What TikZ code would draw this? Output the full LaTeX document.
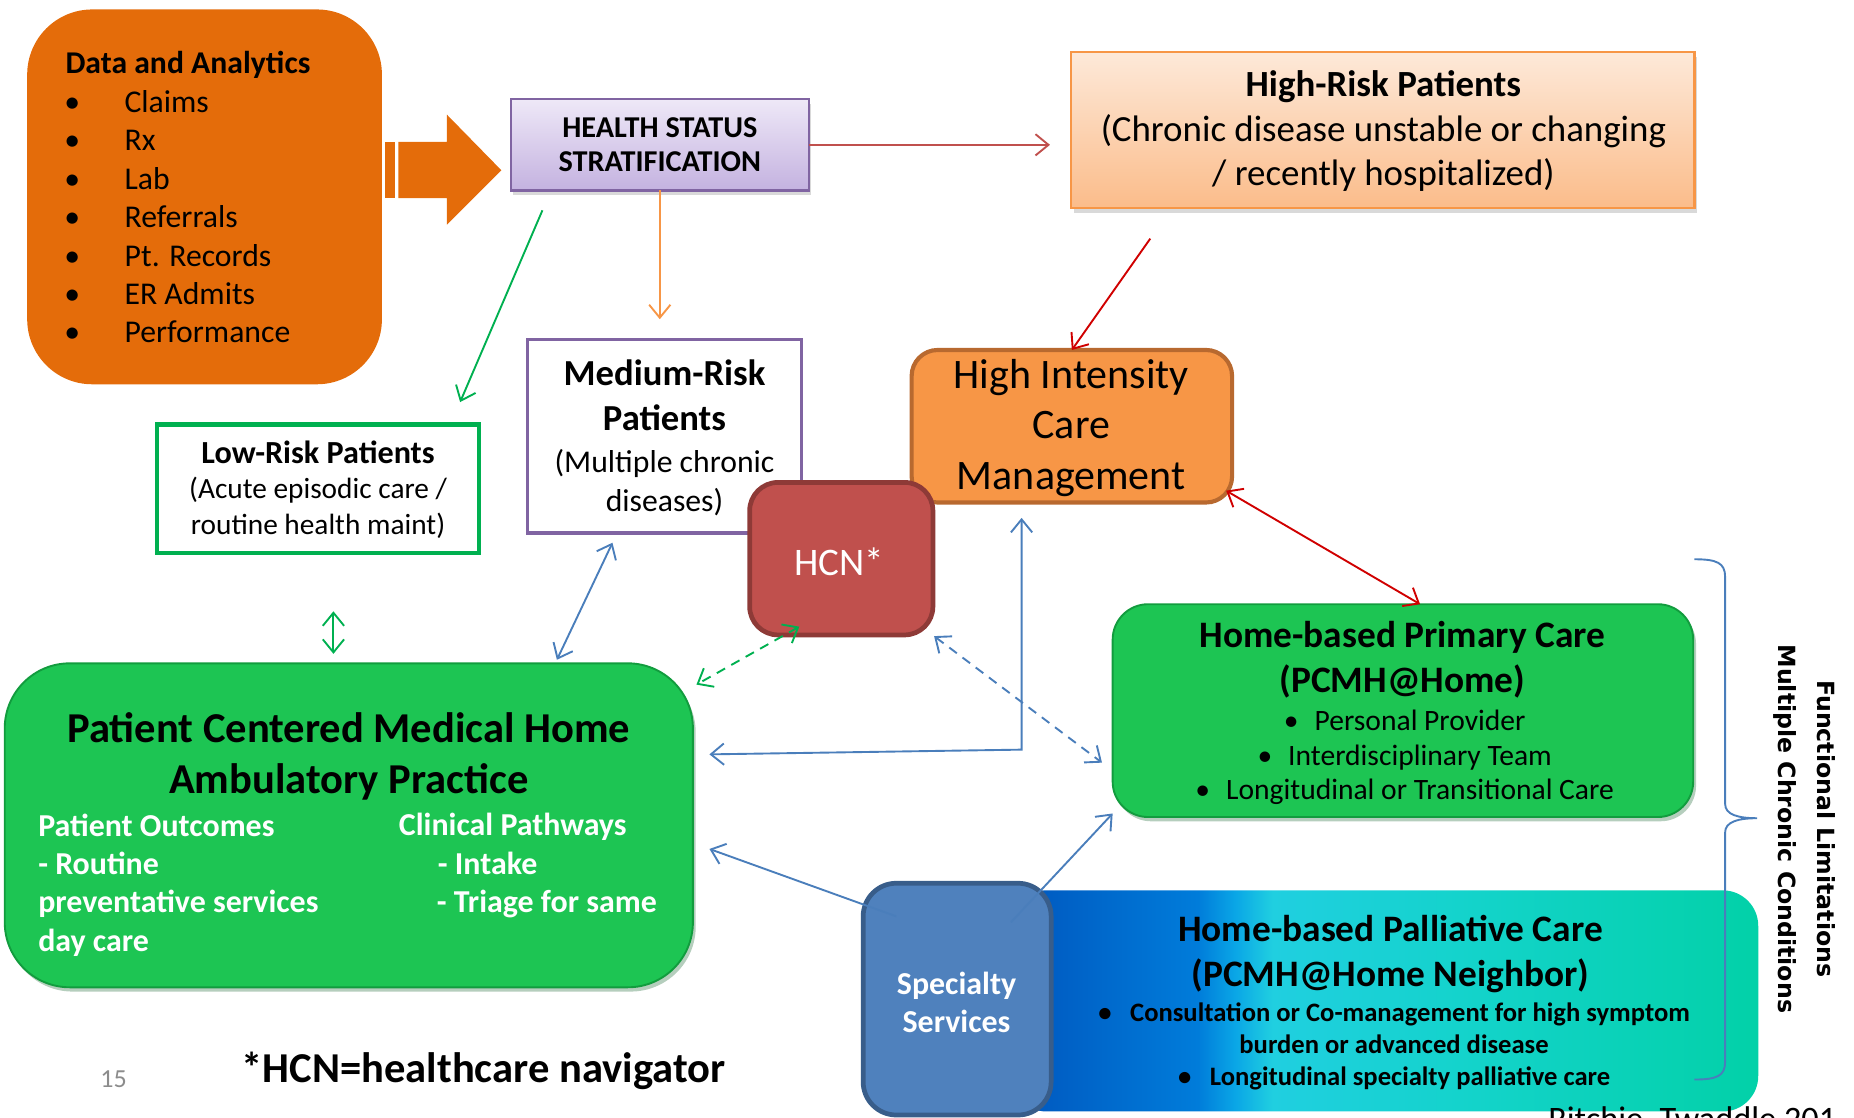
\documentclass[tikz,border=0pt]{standalone}
\usepackage{fontspec}
\setmainfont{Carlito}
\newfontfamily\vertfont{DejaVu Sans}
\usetikzlibrary{arrows.meta,calc,shadows}
\definecolor{daorange}{HTML}{E46C0A}
\definecolor{hsstop}{HTML}{EEE8F7}
\definecolor{hssbot}{HTML}{C4B2E0}
\definecolor{purpleb}{HTML}{8064A2}
\definecolor{hrtop}{HTML}{FDE9D9}
\definecolor{hrbot}{HTML}{FBBC8A}
\definecolor{hrborder}{HTML}{F79646}
\definecolor{hicfill}{HTML}{F79646}
\definecolor{hicborder}{HTML}{B8692F}
\definecolor{hcnfill}{HTML}{C0504D}
\definecolor{hcnborder}{HTML}{8E3A37}
\definecolor{gfill}{HTML}{1DC553}
\definecolor{gdark}{HTML}{129C3E}
\definecolor{glight}{HTML}{5BEB8A}
\definecolor{lowgreen}{HTML}{00B050}
\definecolor{specfill}{HTML}{4F81BD}
\definecolor{specborder}{HTML}{385D8A}
\definecolor{arrblue}{HTML}{4A7EBB}
\definecolor{arrred}{HTML}{C0504D}
\definecolor{brightred}{HTML}{D00000}
\definecolor{arrorange}{HTML}{F79646}
\definecolor{pal1}{HTML}{0056BE}
\definecolor{pal2}{HTML}{007CDA}
\definecolor{pal3}{HTML}{0AA6E6}
\definecolor{pal4}{HTML}{20CFE0}
\definecolor{pal5}{HTML}{14D3CC}
\definecolor{pal6}{HTML}{02D1A8}
\definecolor{pagegray}{HTML}{8C8C8C}
\pgfdeclarehorizontalshading{palshade}{100bp}{color(0bp)=(pal1); color(25bp)=(pal1); color(37.5bp)=(pal2); color(40bp)=(pal3); color(42.5bp)=(pal4); color(55bp)=(pal5); color(75bp)=(pal6); color(100bp)=(pal6)}
\newcommand{\fsz}[2]{\fontsize{#1pt}{#2pt}\selectfont}
\begin{document}
\begin{tikzpicture}[x=0.5pt,y=-0.5pt,
  >={Straight Barb[length=5.5pt,width=9pt]},
  box/.style={inner sep=0pt, outer sep=0pt},
  txt/.style={align=center, inner sep=0pt},
  softshadow/.style={drop shadow={opacity=0.3,shadow xshift=1pt,shadow yshift=-2pt}},
  greenbox/.style={box, fill=gfill, draw=gdark, line width=0.8pt,
     drop shadow={opacity=0.3,shadow xshift=1.2pt,shadow yshift=-1.8pt,fill=gdark!60!black}},
  conn/.style={line width=0.8pt},
  bluearr/.style={conn, draw=arrblue},
  grarr/.style={conn, draw=lowgreen},
  redarr/.style={conn, draw=brightred},
  dsh/.style={dash pattern=on 4pt off 3pt}
]
\path[use as bounding box] (0,0) rectangle (1568,945);

% Data and Analytics
\node[box, fill=daorange, rounded corners=27.5pt, minimum width=150pt, minimum height=158.5pt] (da) at (173,166.5) {};
\node[anchor=west, align=left, inner sep=0pt, font=\fsz{13.4}{16.25}] (dat) at (55,167)
 {\textbf{Data and Analytics}\\
  \hspace*{-0.5pt}\makebox[25.5pt][l]{•}Claims\\
  \hspace*{-0.5pt}\makebox[25.5pt][l]{•}Rx\\
  \hspace*{-0.5pt}\makebox[25.5pt][l]{•}Lab\\
  \hspace*{-0.5pt}\makebox[25.5pt][l]{•}Referrals\\
  \hspace*{-0.5pt}\makebox[25.5pt][l]{•}Pt. Records\\
  \hspace*{-0.5pt}\makebox[25.5pt][l]{•}ER Admits\\
  \hspace*{-0.5pt}\makebox[25.5pt][l]{•}Performance};

% big striped arrow
\fill[daorange] (326,120) rectangle (334,167.5);
\fill[daorange] (337,120) -- (378,120) -- (378,97) -- (424,144) -- (378,190) -- (378,167.5) -- (337,167.5) -- cycle;

% Health status stratification
\node[box, draw=purpleb, line width=1pt, top color=hsstop, bottom color=hssbot, softshadow,
  minimum width=126pt, minimum height=38.5pt] (hss) at (558,122.5) {};
\node[txt, font=\fsz{12.8}{14.5}\bfseries] (hsst) at (hss) {HEALTH STATUS\\STRATIFICATION};

% High-Risk patients
\node[box, draw=hrborder, line width=1pt, top color=hrtop, bottom color=hrbot, softshadow,
  minimum width=263.5pt, minimum height=66pt] (hr) at (1169.5,110) {};
\node[txt, font=\fsz{15.6}{18.75}] (hrt) at (1170,111)
 {\textbf{High-Risk Patients}\\(Chronic disease unstable or changing\\/ recently hospitalized)};

% Low-risk
\node[box, fill=white, draw=lowgreen, line width=1.75pt, minimum width=136pt, minimum height=54.5pt] (low) at (269,413.5) {};
\node[txt, font=\fsz{12.4}{15}] (lowt) at (269,414)
 {{\fsz{13.6}{15}\bfseries Low-Risk Patients}\\(Acute episodic care /\\routine health maint)};

% Medium-risk
\node[box, fill=white, draw=purpleb, line width=1.5pt, minimum width=116pt, minimum height=82pt] (med) at (562,369) {};
\node[txt, font=\fsz{15.5}{19}\bfseries] (medt1) at (562,334) {Medium-Risk\\Patients};
\node[txt, font=\fsz{13.4}{16.5}] (medt2) at (562,408.5) {(Multiple chronic\\diseases)};

% High Intensity Care Management
\node[box, fill=hicfill, draw=hicborder, line width=1.75pt, rounded corners=11pt,
  minimum width=135.5pt, minimum height=64.5pt] (hic) at (906.5,360.5) {};
\node[txt, font=\fsz{17.75}{21.5}] (hict) at (906,362) {High Intensity\\Care\\Management};

% HCN
\node[box, fill=hcnfill, draw=hcnborder, line width=2pt, rounded corners=12pt,
  minimum width=77.5pt, minimum height=64.5pt] (hcn) at (711.5,472.5) {};
\node[txt, font=\fsz{16.5}{19}, text=white] (hcnt) at (710,475) {HCN*};

% PCMH
\node[greenbox, rounded corners=27.5pt, minimum width=291pt, minimum height=137pt] (pcmh) at (295,698) {};
\node[txt, font=\fsz{18}{21.5}\bfseries] (pcmht) at (295,639.5) {Patient Centered Medical Home\\Ambulatory Practice};
\node[anchor=west, align=left, inner sep=0pt, font=\fsz{13.5}{16.2}\bfseries, text=white] (pcmhl) at (32,748.5)
 {Patient Outcomes\\- Routine\\preventative services\\day care};
\node[anchor=west, align=left, inner sep=0pt, font=\fsz{13.5}{16.2}\bfseries, text=white] (pcmhr) at (337,732)
 {Clinical Pathways\\\hspace*{16.5pt}- Intake\\\hspace*{16pt}- Triage for same};

% Home-based primary care
\node[greenbox, rounded corners=15pt, minimum width=245.5pt, minimum height=90pt] (hbpc) at (1186.5,601) {};
\node[txt, font=\fsz{15.8}{19}\bfseries] (hbpct) at (1186,558) {Home-based Primary Care\\(PCMH@Home)};
\node[txt, font=\fsz{12.5}{14.75}] (hbpcb) at (1188,640.5)
 {\makebox[13pt][l]{•}Personal Provider\\\makebox[13pt][l]{•}Interdisciplinary Team\\\makebox[13pt][l]{•}Longitudinal or Transitional Care};

% Home-based palliative care
\node[box, shading=palshade, rounded corners=15pt, minimum width=316pt, minimum height=93.5pt] (pal) at (1171,846.5) {};
\node[txt, font=\fsz{15.8}{19}\bfseries] (palt) at (1176,807) {Home-based Palliative Care\\(PCMH@Home Neighbor)};
\node[txt, font=\fsz{11.25}{13.5}\bfseries] (palb) at (1179,885)
 {\makebox[13.5pt][l]{•}Consultation or Co-management for high symptom\\burden or advanced disease\\\makebox[13.5pt][l]{•}Longitudinal specialty palliative care};

% Specialty services
\node[box, fill=specfill, draw=specborder, line width=2pt, rounded corners=14pt,
  minimum width=79.5pt, minimum height=98pt] (spec) at (809.5,845) {};
\node[txt, font=\fsz{13.5}{16}\bfseries, text=white] (spect) at (809,848) {Specialty\\Services};

% connectors
\draw[conn, draw=arrred, ->, shorten >=9pt] (hss.east) -- (hss.east -| hr.west);
\draw[conn, draw=arrorange, ->, shorten >=8.5pt] (hss.south) -- (hss.south |- med.north);
\draw[grarr, ->, shorten <=9.2pt, shorten >=10.3pt] ($(hss.south west)+(34,0)$) -- ($(low.north east)+(-24,0)$);
\draw[redarr, ->, shorten <=15.8pt] ($(hr.south west)+(85,0)$) -- (hic.north);
\draw[redarr, <->] ($(hic.south east)+(-5,-10)$) -- ($(hbpc.north)+(14.5,0)$);
\draw[bluearr, <->] ($(med.south)+(-44,8)$) -- ($(pcmh.north)+(176,-3)$);
\coordinate (bend) at (864,634);
\draw[bluearr, <->, shorten >=6.5pt] ($(pcmh.east)+(14,-60)$) -- (bend) -- (bend |- hic.south);
\draw[bluearr, dsh, <->] ($(hcn.south east)+(1,1)$) -- ($(hbpc.west)+(-9,44)$);
\draw[grarr, dsh, <->] ($(hcn.south)+(-35.5,-7)$) -- ($(pcmh.north east)+(3,18)$);
\draw[grarr, <->] ($(low.south)+(13,49)$) -- ($(pcmh.north)+(-13,-8)$);
\draw[bluearr, ->] ($(spec.north west)+(28,28)$) -- ($(pcmh.east)+(14,20)$);
\draw[bluearr, ->] ($(spec.north east)+(-34,33)$) -- ($(hbpc.south west)+(0,-3)$);

% brace
\draw[conn, draw=arrblue] (1433,473) .. controls (1452,473) and (1459,476) .. (1459,488) -- (1459,680)
  .. controls (1459,689) and (1470,692) .. (1486,692)
  .. controls (1470,692) and (1459,695) .. (1459,704) -- (1459,898)
  .. controls (1459,910) and (1452,913) .. (1433,913);
\node[txt, rotate=-90, font=\vertfont\fsz{10}{16.5}\bfseries] (side) at (1526,701)
 {Functional Limitations\\Multiple Chronic Conditions};

% footnotes
\node[txt, font=\fsz{18}{20}\bfseries] (foot) at (409,906) {*HCN=healthcare navigator};
\node[txt, font=\fsz{11}{13}, text=pagegray] (pagenum) at (96,913) {15};
\begin{scope}
\clip (0,0) rectangle (1568,945);
\node[anchor=base west, inner sep=0pt, font=\fsz{14.5}{17}] (cite) at (1309,956) {Ritchie, Twaddle 201};
\end{scope}
\end{tikzpicture}
\end{document}
